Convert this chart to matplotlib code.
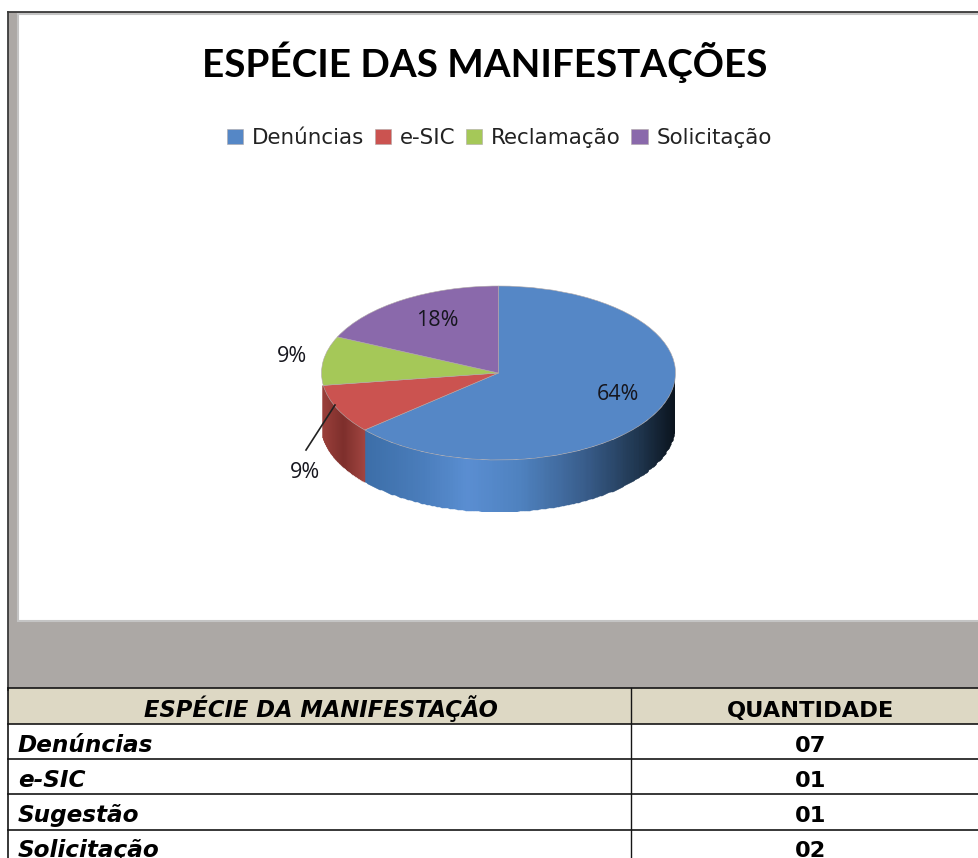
import numpy as np
import matplotlib
matplotlib.use("Agg")
import matplotlib.pyplot as plt
from matplotlib.colors import LinearSegmentedColormap
from matplotlib.patches import Rectangle

# ---- data ----
title = "ESPÉCIE DAS MANIFESTAÇÕES"
legend_labels = ["Denúncias", "e-SIC", "Reclamação", "Solicitação"]
values = [7, 1, 1, 2]
colors = ["#5587C6", "#CB5350", "#A5C858", "#8A69AB"]
table_header = ["ESPÉCIE DA MANIFESTAÇÃO", "QUANTIDADE"]
table_names = ["Denúncias", "e-SIC", "Sugestão", "Solicitação"]
table_counts = ["07", "01", "01", "02"]

W, H = 979, 858
fig = plt.figure(figsize=(W / 100, H / 100), dpi=100, facecolor="white")

# ---- page background in pixel coordinates ----
bg = fig.add_axes([0, 0, 1, 1])
bg.set_xlim(0, W); bg.set_ylim(H, 0); bg.axis("off")
bg.add_patch(Rectangle((8, 12), W - 8, 690, fc="#ACA8A5", ec="none"))
bg.add_patch(Rectangle((18.5, 14), W, 606.5, fc="white", ec="#C4C4C4", lw=1.5))
bg.plot([8, 8], [12, 690], color="#3A3A3A", lw=1.3)
bg.plot([8, W], [12, 12], color="#3A3A3A", lw=1.3)

bg.text(485, 77, title, ha="center", va="baseline", family="Lato",
        weight="bold", fontsize=27.8, color="black")

# ---- table ----
row_y = [688, 724, 759, 794, 830]
baselines = [752, 787, 822, 857]
bg.add_patch(Rectangle((8, row_y[0]), W, row_y[1] - row_y[0], fc="#DDD8C4", ec="none"))
bg.add_patch(Rectangle((8, row_y[1]), W, H - row_y[1], fc="white", ec="none"))
for y in row_y:
    bg.plot([8, W], [y, y], color="#151515", lw=1.2)
bg.plot([8, 8], [688, H], color="#151515", lw=1.2)
bg.plot([631, 631], [688, H], color="#151515", lw=1.0)
tf = dict(family="DejaVu Sans", weight="bold", color="black", va="baseline")
bg.text(321, 717, table_header[0], ha="center", style="italic", fontsize=16.3, **tf)
bg.text(811, 717, table_header[1], ha="center", fontsize=16.2, **tf)
for name, count, yb in zip(table_names, table_counts, baselines):
    bg.text(18, yb, name, ha="left", style="italic", fontsize=16.7, **tf)
    bg.text(811, yb, count, ha="center", fontsize=16.2, **tf)

# ---- pie, flattened into an ellipse ----
cx_px, cy_px, a_px, b_px, depth_px = 498.5, 373, 177, 87, 52
low = -(b_px + depth_px) / b_px
ax = fig.add_axes([(cx_px - a_px) / W, 1 - (cy_px + b_px + depth_px) / H,
                   2 * a_px / W, (2 * b_px + depth_px) / H])
ax.patch.set_alpha(0)
wedges, _ = ax.pie(values, colors=colors, startangle=90, counterclock=False,
                   radius=1, wedgeprops=dict(lw=0.4, edgecolor="#B0A8A8"))
ax.set_aspect("auto")
ax.set_xlim(-1, 1)
ax.set_ylim(low, 1)
depth = depth_px / b_px

blue_cmap = LinearSegmentedColormap.from_list("blue_wall", [
    (0.00, "#3C6EA8"), (0.18, "#4A7DBB"), (0.33, "#5A8ED2"),
    (0.50, "#4F82BF"), (0.70, "#3A5F8E"), (0.88, "#203750"), (1.00, "#0B141E")])
red_cmap = LinearSegmentedColormap.from_list("red_wall", ["#9A3F3A", "#7E2F2C", "#A04440"])


def wall(theta1, theta2, cmap):
    t1, t2 = max(theta1, 180), min(theta2, 360)
    if t2 <= t1:
        return
    th = np.radians(np.linspace(t1, t2, 160))
    X = np.vstack([np.cos(th), np.cos(th)])
    Y = np.vstack([np.sin(th), np.sin(th) - depth])
    xm = (X[0, :-1] + X[0, 1:]) / 2
    C = (xm - xm.min()) / (xm.max() - xm.min())
    ax.pcolormesh(X, Y, C[None, :], cmap=cmap, shading="flat", zorder=0.5,
                  antialiased=True, edgecolor="face", linewidth=0.3)


# clockwise wedges carry negative angles: bring them into 0..360
wall(wedges[0].theta1 % 360, 360, blue_cmap)
wall(wedges[1].theta1 % 360, wedges[1].theta2 % 360, red_cmap)

# ---- percentage labels, on an overlay above the pie ----
total = sum(values)
pcts = [f"{round(100 * v / total)}%" for v in values]
label_px = [(618, 394), (305, 473), (292, 357), (437, 320)]
ov = fig.add_axes([0, 0, 1, 1], zorder=3)
ov.set_xlim(0, W); ov.set_ylim(H, 0); ov.axis("off")
for s, (x, y) in zip(pcts, label_px):
    ov.text(x, y, s, ha="center", va="center", fontsize=15.5, color="#16161E",
            family="Open Sans")
ov.plot([335, 306], [405, 450], color="#222222", lw=1.2)

# ---- legend ----
fig.legend(wedges, legend_labels, loc="center", ncol=4,
           bbox_to_anchor=(499.5 / W, 1 - 138 / H), frameon=False,
           prop=dict(family="DejaVu Sans", size=15.4),
           handlelength=0.76, handleheight=0.76, handletextpad=0.42,
           columnspacing=0.48, labelcolor="#222222", borderpad=0)

fig.savefig("out.png", dpi=100, facecolor="white")
